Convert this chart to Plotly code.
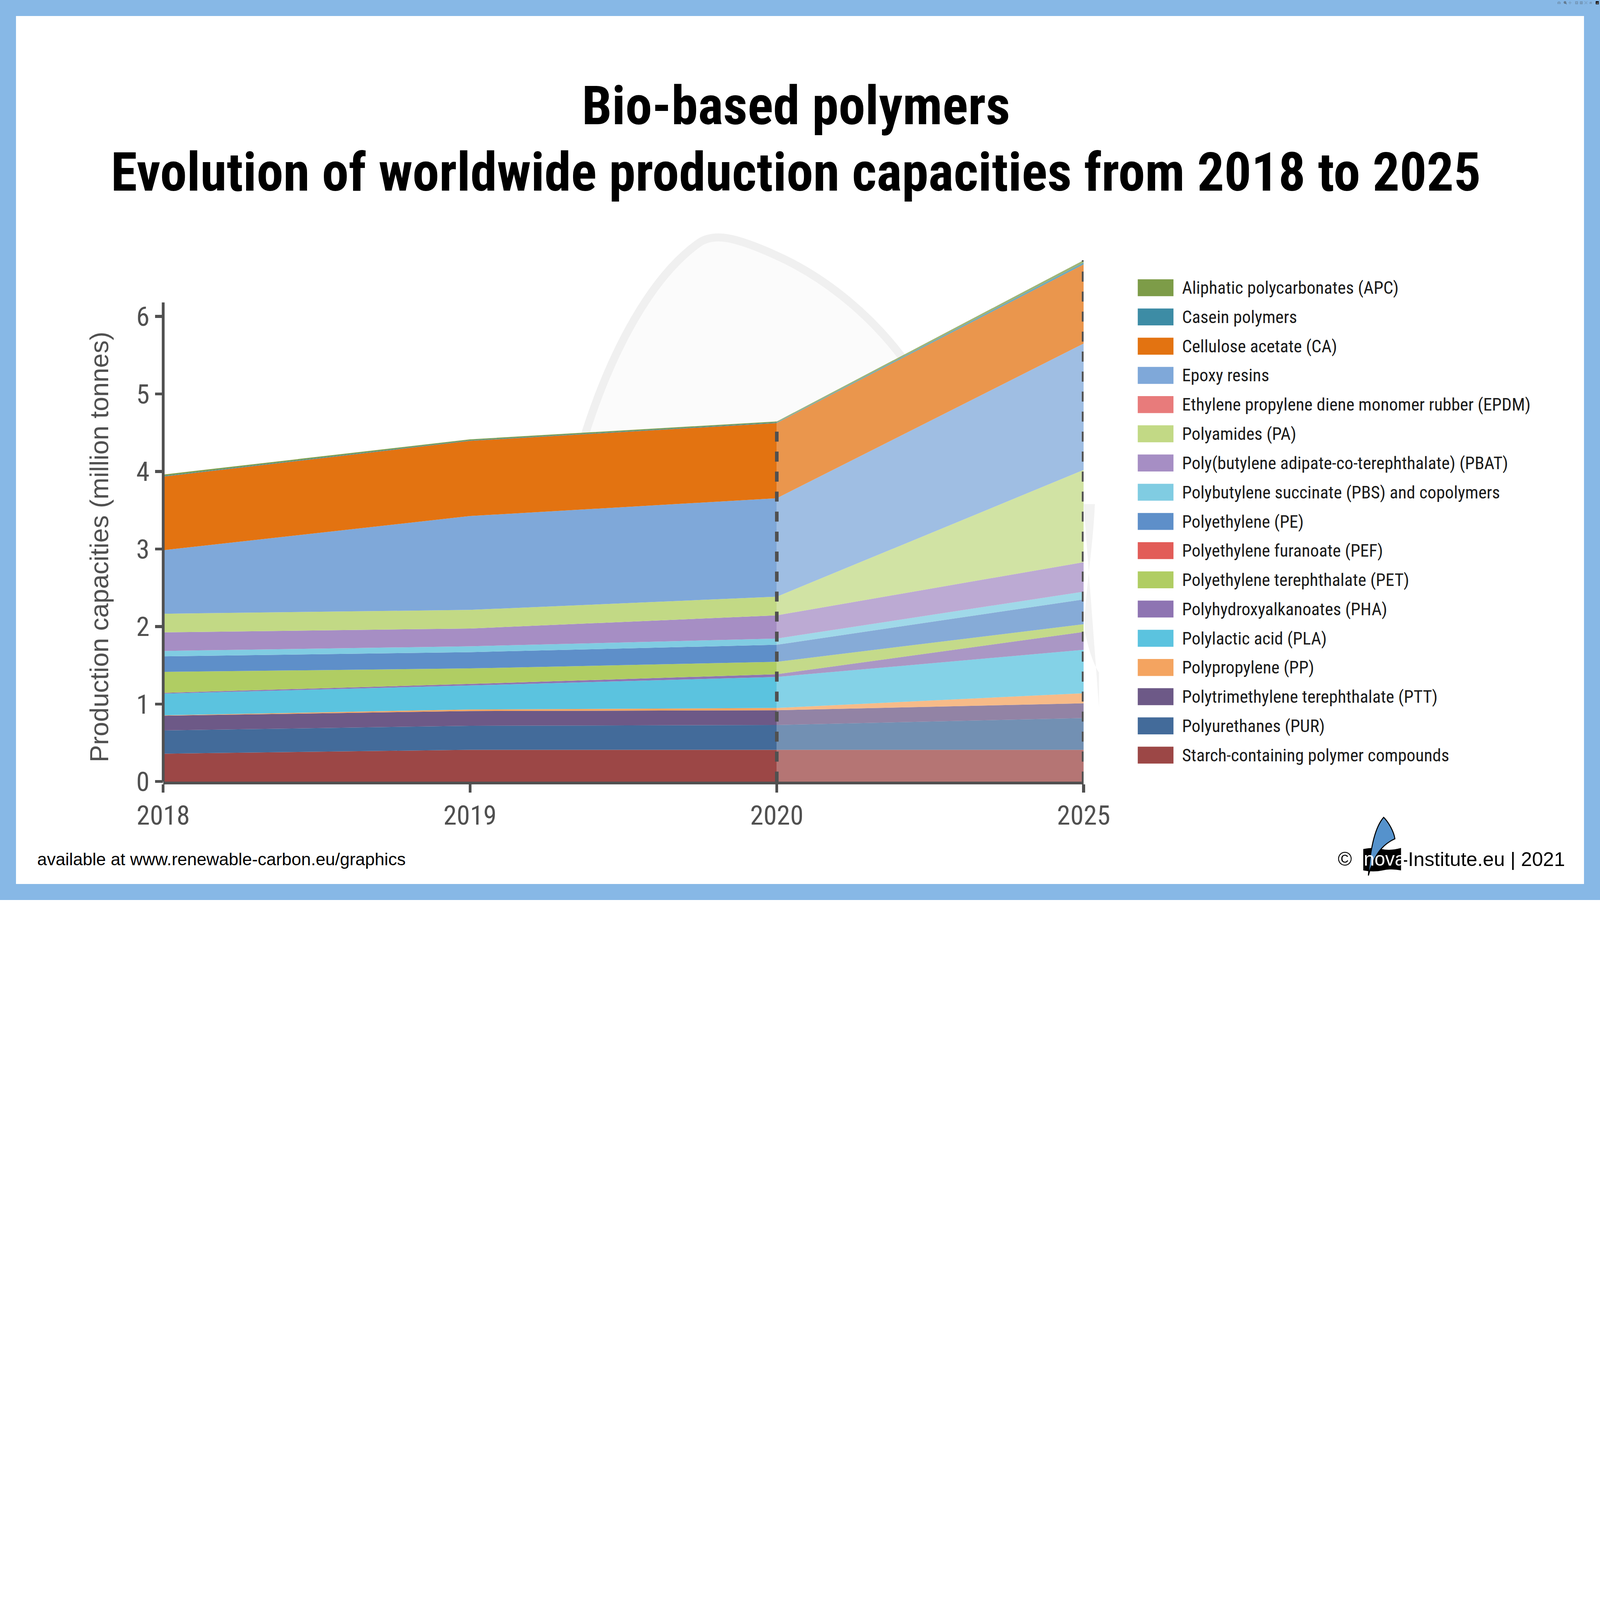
import plotly.graph_objects as go

# years shown on the (categorical) x axis
YEARS = ['2018', '2019', '2020', '2025']

# stack order, bottom to top (million tonnes)
STARCH = [0.36, 0.41, 0.41, 0.41]
PUR = [0.30, 0.31, 0.32, 0.41]
PTT = [0.19, 0.19, 0.19, 0.19]
PP = [0.005, 0.02, 0.03, 0.13]
PLA = [0.28, 0.31, 0.40, 0.56]
PHA = [0.01, 0.02, 0.035, 0.23]
PET = [0.27, 0.20, 0.16, 0.10]
PEF = [0.0, 0.0, 0.0, 0.0]
PE = [0.20, 0.21, 0.22, 0.32]
PBS = [0.07, 0.075, 0.08, 0.10]
PBAT = [0.24, 0.23, 0.30, 0.38]
PA = [0.24, 0.24, 0.24, 1.19]
EPDM = [0.0, 0.0, 0.0, 0.0]
EPOXY = [0.82, 1.21, 1.27, 1.63]
CA = [0.95, 0.97, 0.97, 1.02]
CASEIN = [0.008, 0.008, 0.008, 0.025]
APC = [0.017, 0.012, 0.012, 0.03]

NAMES = [
    'Starch-containing polymer compounds', 'Polyurethanes (PUR)',
    'Polytrimethylene terephthalate (PTT)', 'Polypropylene (PP)',
    'Polylactic acid (PLA)', 'Polyhydroxyalkanoates (PHA)',
    'Polyethylene terephthalate (PET)', 'Polyethylene furanoate (PEF)',
    'Polyethylene (PE)', 'Polybutylene succinate (PBS) and copolymers',
    'Poly(butylene adipate-co-terephthalate) (PBAT)', 'Polyamides (PA)',
    'Ethylene propylene diene monomer rubber (EPDM)', 'Epoxy resins',
    'Cellulose acetate (CA)', 'Casein polymers', 'Aliphatic polycarbonates (APC)',
]
SERIES = [STARCH, PUR, PTT, PP, PLA, PHA, PET, PEF, PE, PBS, PBAT, PA, EPDM, EPOXY, CA, CASEIN, APC]
COLORS = [
    '#9c4746', '#436b9a', '#6d5987', '#f4a460', '#5bc3df', '#8e74b2',
    '#b0cd63', '#e25c58', '#5e8fc9', '#80cce2', '#a68ec4', '#c2d985',
    '#e87b7b', '#7fa8d9', '#e37311', '#3d8ca5', '#7d9c48',
]

NARROW = 'Liberation Sans Narrow, Arial Narrow, Roboto Condensed, sans-serif'
REGULAR = 'Liberation Sans, Arial, Helvetica, sans-serif'
AXIS = '#505050'

Y_TOP = 6.8      # plot area top (data above the visible axis line is not clipped)
AXIS_TOP = 6.18  # where the drawn y axis line stops

# page geometry (pixels)
W, H = 8000, 4500
UNIT = 387.7
L, R, B = 816, 2582, 592
BOT = H - B
T = int(round(BOT - Y_TOP * UNIT))
PW, PH = W - L - R, H - T - B
S = 8000 / 1568  # reference thumbnail -> page pixels


def fx(xt):
    return (xt * S - L) / PW


def fy(yt):
    return (BOT - yt * S) / PH


def rgba(hex_color, a):
    h = hex_color.lstrip('#')
    return 'rgba(%d,%d,%d,%.2f)' % (int(h[0:2], 16), int(h[2:4], 16), int(h[4:6], 16), a)


def path(points, close=True):
    # points: list of (cmd, [(x, y), ...]) in thumbnail coords
    out = ''
    for cmd, pts in points:
        out += cmd + ' '.join('%.5f,%.5f' % (fx(x), fy(y)) for x, y in pts) + ' '
    return out + ('Z' if close else '')


fig = go.Figure()

# measured years (solid)
for name, vals, col in zip(NAMES, SERIES, COLORS):
    fig.add_trace(go.Scatter(
        x=YEARS[:3], y=vals[:3], name=name, stackgroup='actual',
        mode='none', fillcolor=col, line=dict(width=0), showlegend=False))

# forecast part (lighter)
for name, vals, col in zip(NAMES, SERIES, COLORS):
    fig.add_trace(go.Scatter(
        x=YEARS[2:], y=vals[2:], name=name, stackgroup='forecast',
        mode='none', fillcolor=rgba(col, 0.75), line=dict(width=0), showlegend=False))

# dashed markers at 2020 and 2025
totals = [sum(s[i] for s in SERIES) for i in range(len(YEARS))]
for i in (2, 3):
    fig.add_trace(go.Scatter(
        x=[YEARS[i], YEARS[i]], y=[0, totals[i]], mode='lines',
        line=dict(color=AXIS, width=18, dash='50px,50px'), showlegend=False))

shapes = []
# white card on the blue frame
shapes.append(dict(type='rect', xref='paper', yref='paper', layer='below',
                   x0=(80 - L) / PW, x1=(W - 80 - L) / PW,
                   y0=(BOT - (H - 80)) / PH, y1=(BOT - 80) / PH,
                   fillcolor='white', line=dict(width=0)))
# faint watermark sail (only the part outside the chart is really visible)
sail = [('M', [(572, 430)]),
        ('C', [(600, 340), (640, 270), (685, 238)]),
        ('C', [(700, 228), (720, 232), (760, 250)]),
        ('C', [(805, 270), (850, 305), (884, 350)])]
shapes.append(dict(type='path', xref='paper', yref='paper', layer='below',
                   path=path(sail + [('L', [(762, 413), (572, 430)])]),
                   fillcolor='#fbfbfb', line=dict(width=0)))
shapes.append(dict(type='path', xref='paper', yref='paper', layer='below',
                   path=path(sail, close=False),
                   fillcolor='rgba(0,0,0,0)', line=dict(color='#f0f0f0', width=40)))
shapes.append(dict(type='path', xref='paper', yref='paper', layer='below',
                   path=path([('M', [(1062, 494)]), ('L', [(1073, 494)]),
                              ('C', [(1071, 540), (1062, 590), (1063, 617)]),
                              ('C', [(1066, 635), (1072, 652), (1077, 659)]),
                              ('L', [(1077, 693), (1062, 693)])]),
                   fillcolor='#f2f2f2', line=dict(width=0)))
# y axis line, stopping a little above the 6 tick
shapes.append(dict(type='line', xref='paper', yref='y', x0=0, x1=0, y0=0, y1=AXIS_TOP,
                   line=dict(color=AXIS, width=14)))

annotations = []
# title
annotations.append(dict(text='<b>Bio-based polymers</b>', x=fx(780), y=(BOT - 530) / PH,
                        xref='paper', yref='paper', showarrow=False, xanchor='center', yanchor='middle',
                        font=dict(family=NARROW, size=268, color='black')))
annotations.append(dict(text='<b>Evolution of worldwide production capacities from 2018 to 2025</b>',
                        x=fx(780), y=(BOT - 861) / PH,
                        xref='paper', yref='paper', showarrow=False, xanchor='center', yanchor='middle',
                        font=dict(family=NARROW, size=268, color='black')))
# y title
annotations.append(dict(text='Production capacities (million tonnes)', x=fx(97), y=fy(536),
                        xref='paper', yref='paper', showarrow=False, textangle=-90,
                        xanchor='center', yanchor='middle',
                        font=dict(family=REGULAR, size=130, color=AXIS)))

# legend (top to bottom = reverse stack order)
for k, (name, col) in enumerate(zip(NAMES[::-1], COLORS[::-1])):
    yc = 282 + k * 28.625
    shapes.append(dict(type='rect', xref='paper', yref='paper',
                       x0=fx(1115), x1=fx(1150), y0=fy(yc + 8.3), y1=fy(yc - 8.3),
                       fillcolor=col, line=dict(width=0)))
    annotations.append(dict(text=name, x=fx(1158), y=fy(yc), xref='paper', yref='paper',
                            showarrow=False, xanchor='left', yanchor='middle',
                            font=dict(family=NARROW, size=88, color='#1a1a1a')))

# footer
annotations.append(dict(text='available at www.renewable-carbon.eu/graphics', x=fx(36), y=fy(842),
                        xref='paper', yref='paper', showarrow=False, xanchor='left', yanchor='middle',
                        font=dict(family=REGULAR, size=87, color='black')))
annotations.append(dict(text='©', x=fx(1318), y=fy(842), xref='paper', yref='paper',
                        showarrow=False, xanchor='center', yanchor='middle',
                        font=dict(family=REGULAR, size=96, color='black')))
annotations.append(dict(text='-Institute.eu | 2021', x=fx(1373), y=fy(842), xref='paper', yref='paper',
                        showarrow=False, xanchor='left', yanchor='middle',
                        font=dict(family=REGULAR, size=99, color='black')))
shapes.append(dict(type='path', xref='paper', yref='paper',
                   path=path([('M', [(1336, 832)]),
                              ('Q', [(1346, 830), (1354, 832)]),
                              ('Q', [(1362, 834), (1373, 831)]),
                              ('L', [(1373, 853)]),
                              ('Q', [(1364, 851), (1355, 853)]),
                              ('Q', [(1346, 855), (1336, 853)])]),
                   fillcolor='black', line=dict(width=0)))
annotations.append(dict(text='nova', x=fx(1357), y=fy(842), xref='paper', yref='paper',
                        showarrow=False, xanchor='center', yanchor='middle',
                        font=dict(family=REGULAR, size=96, color='white')))
shapes.append(dict(type='path', xref='paper', yref='paper',
                   path=path([('M', [(1341, 858)]),
                              ('C', [(1343, 830), (1348, 810), (1356, 801)]),
                              ('C', [(1361, 806), (1366, 815), (1367, 822)]),
                              ('C', [(1356, 827), (1347, 836), (1341, 858)])]),
                   fillcolor='#5592cc', line=dict(color='black', width=5)))

fig.update_layout(
    width=W, height=H,
    margin=dict(l=L, r=R, t=T, b=B),
    paper_bgcolor='#87b8e6', plot_bgcolor='rgba(0,0,0,0)',
    showlegend=False, hovermode=False,
    shapes=shapes, annotations=annotations,
    xaxis=dict(type='category', categoryorder='array', categoryarray=YEARS,
               range=[0, 3], showline=True, linecolor=AXIS, linewidth=14,
               ticks='outside', ticklen=40, tickwidth=14, tickcolor=AXIS,
               showgrid=False, zeroline=False,
               tickfont=dict(family=NARROW, size=135, color=AXIS)),
    yaxis=dict(range=[0, Y_TOP], tickvals=[0, 1, 2, 3, 4, 5, 6], showline=False,
               ticks='outside', ticklen=40, tickwidth=14, tickcolor=AXIS,
               showgrid=False, zeroline=False,
               tickfont=dict(family=NARROW, size=135, color=AXIS)),
)

# scale the fixed-size figure to the actual window, in case it is not 8000x4500
FIT = """
document.body.style.margin = '0';
var s = Math.min(window.innerWidth / 8000, window.innerHeight / 4500);
if (s > 0 && Math.abs(s - 1) > 0.01) { document.body.style.zoom = s; }
"""

fig.write_html('out.html', post_script=FIT)
